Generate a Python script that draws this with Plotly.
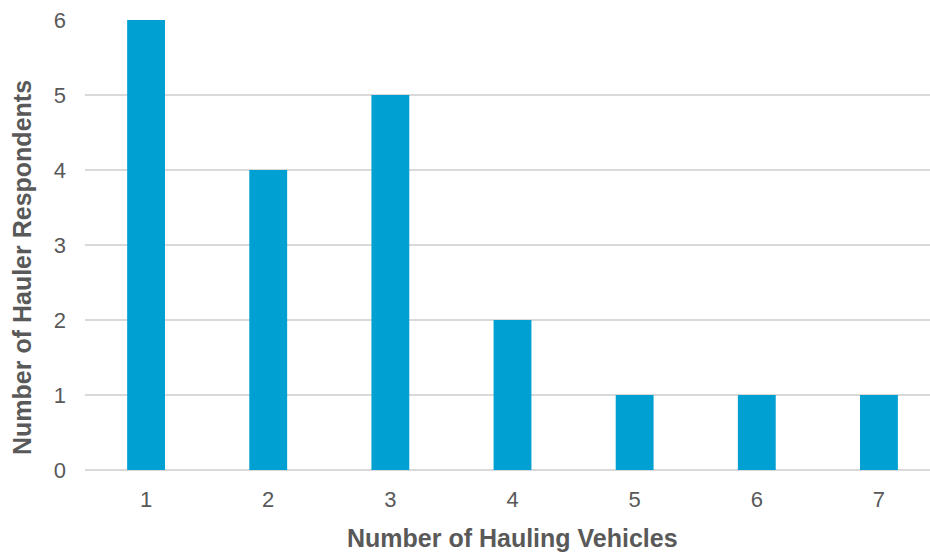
import plotly.graph_objects as go

vehicles = [1, 2, 3, 4, 5, 6, 7]
respondents = [6, 4, 5, 2, 1, 1, 1]
y_ticks = [0, 1, 2, 3, 4, 5, 6]
x_title = "Number of Hauling Vehicles"
y_title = "Number of Hauler Respondents"

fig = go.Figure(go.Bar(
    x=vehicles, y=respondents, width=0.31,
    marker=dict(color="#00A0D2", line=dict(width=0)),
))

fig.update_layout(
    width=930, height=552,
    margin=dict(l=85, r=0, t=20, b=82),
    paper_bgcolor="white", plot_bgcolor="white",
    showlegend=False,
    font=dict(family="Liberation Sans, Arial, sans-serif", color="#595959"),
    xaxis=dict(
        range=[0.5, 7.418], tickvals=vehicles, ticktext=[str(v) for v in vehicles],
        showgrid=False, zeroline=False, showline=False,
        tickfont=dict(size=22, color="#595959"), ticks="", ticklen=0,
        ticklabelstandoff=14,
    ),
    yaxis=dict(
        range=[0, 6], tickvals=y_ticks,
        showgrid=True, gridcolor="#D9D9D9", gridwidth=1.5,
        zeroline=True, zerolinecolor="#D9D9D9", zerolinewidth=1.5,
        showline=False, ticks="", tickfont=dict(size=22, color="#595959"),
        ticklabelstandoff=18,
    ),
    annotations=[
        dict(text=f"<b>{x_title}</b>", xref="paper", yref="paper",
             x=(512 - 85) / 845, y=0, yshift=-68, xanchor="center", yanchor="middle",
             showarrow=False, font=dict(size=25, color="#595959")),
        dict(text=f"<b>{y_title}</b>", xref="paper", yref="paper",
             x=0, xshift=-63, y=(470 - 268) / 450, xanchor="center", yanchor="middle",
             textangle=-90, showarrow=False, font=dict(size=25, color="#595959")),
    ],
)

fig.write_html("out.html")
